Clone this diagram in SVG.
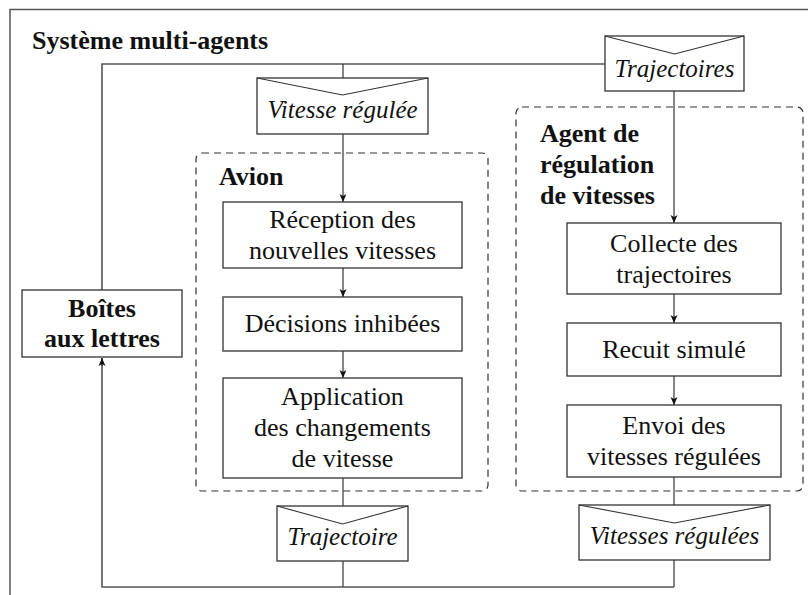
<svg xmlns="http://www.w3.org/2000/svg" width="808" height="595" viewBox="0 0 808 595">
  <style>
    text { font-family: "Liberation Serif", "DejaVu Serif", serif; fill: #111; }
    .t { font-size: 26px; text-anchor: middle; }
    .it { font-size: 25px; font-style: italic; text-anchor: middle; }
    .b { font-size: 26px; font-weight: bold; }
    .bc { font-size: 26px; font-weight: bold; text-anchor: middle; }
    .box { fill: #fff; stroke: #333; stroke-width: 1.3; }
    .env { fill: #fff; stroke: #333; stroke-width: 1.3; }
    .fold { fill: none; stroke: #333; stroke-width: 1.1; }
    .group { fill: none; stroke: #333; stroke-width: 1.2; stroke-dasharray: 7 5; }
    .frame { fill: none; stroke: #555; stroke-width: 1.5; }
    .wire { fill: none; stroke: #222; stroke-width: 1.1; }
    .loop { fill: none; stroke: #555; stroke-width: 1.6; }
  </style>
  <defs>
    <marker id="arrow" markerUnits="userSpaceOnUse" markerWidth="10" markerHeight="10" viewBox="0 0 10 10" refX="9" refY="5" orient="auto">
      <path d="M1,1.5 L9,5 L1,8.5 L3,5 Z" fill="#111"/>
    </marker>
  </defs>

  <!-- outer frame of the multi-agent system -->
  <path class="frame" d="M10,595 V9.5 H808"/>
  <text class="b" x="32" y="49">Système multi-agents</text>

  <!-- dashed containers -->
  <g id="avion">
    <rect class="group" x="196" y="153" width="292" height="338" rx="6"/>
    <text class="b" x="219" y="185">Avion</text>
  </g>
  <g id="agent-regulation">
    <rect class="group" x="516" y="107" width="287" height="384" rx="6"/>
    <text class="b" x="540" y="142">Agent de</text>
    <text class="b" x="540" y="173">régulation</text>
    <text class="b" x="540" y="204">de vitesses</text>
  </g>

  <!-- connectors -->
  <g id="connectors">
    <!-- mailbox feed: top bus -->
    <path class="loop" d="M102,290 V64 H605"/>
    <path class="wire" d="M343,64 V78"/>
    <!-- aircraft chain -->
    <path class="wire" d="M343,134 V202" marker-end="url(#arrow)"/>
    <path class="wire" d="M343,268 V297" marker-end="url(#arrow)"/>
    <path class="wire" d="M343,351 V378" marker-end="url(#arrow)"/>
    <path class="wire" d="M343,478 V506"/>
    <path class="wire" d="M343,561 V587"/>
    <!-- regulation agent chain -->
    <path class="wire" d="M674,91 V223" marker-end="url(#arrow)"/>
    <path class="wire" d="M674,294 V323" marker-end="url(#arrow)"/>
    <path class="wire" d="M674,376 V405" marker-end="url(#arrow)"/>
    <path class="wire" d="M674,477 V505"/>
    <path class="wire" d="M674,560 V587"/>
    <!-- return bus back to the mailboxes -->
    <path class="loop" d="M674,587 H102 V358"/>
    <path class="wire" d="M102,366 V358" marker-end="url(#arrow)"/>
  </g>

  <!-- mailboxes -->
  <g id="boites">
    <rect class="box" x="22" y="290" width="160" height="67"/>
    <text class="bc" x="102" y="317">Boîtes</text>
    <text class="bc" x="102" y="347">aux lettres</text>
  </g>

  <!-- messages (envelopes) -->
  <g id="msg-vitesse-regulee">
    <rect class="env" x="257" y="78" width="171" height="56"/>
    <path class="fold" d="M257,78 L342.5,95 L428,78"/>
    <text class="it" x="342.5" y="118">Vitesse régulée</text>
  </g>
  <g id="msg-trajectoires">
    <rect class="env" x="605" y="36" width="139" height="55"/>
    <path class="fold" d="M605,36 L674.5,54 L744,36"/>
    <text class="it" x="674.5" y="77">Trajectoires</text>
  </g>
  <g id="msg-trajectoire">
    <rect class="env" x="277" y="506" width="131" height="55"/>
    <path class="fold" d="M277,506 L342.5,524 L408,506"/>
    <text class="it" x="342.5" y="545">Trajectoire</text>
  </g>
  <g id="msg-vitesses-regulees">
    <rect class="env" x="579" y="505" width="191" height="55"/>
    <path class="fold" d="M579,505 L674.5,523 L770,505"/>
    <text class="it" x="674.5" y="544">Vitesses régulées</text>
  </g>

  <!-- aircraft steps -->
  <g id="reception">
    <rect class="box" x="223" y="202" width="239" height="66"/>
    <text class="t" x="342.5" y="228">Réception des</text>
    <text class="t" x="342.5" y="259">nouvelles vitesses</text>
  </g>
  <g id="decisions">
    <rect class="box" x="223" y="297" width="239" height="54"/>
    <text class="t" x="342.5" y="332">Décisions inhibées</text>
  </g>
  <g id="application">
    <rect class="box" x="223" y="378" width="239" height="100"/>
    <text class="t" x="342.5" y="405">Application</text>
    <text class="t" x="342.5" y="436">des changements</text>
    <text class="t" x="342.5" y="467">de vitesse</text>
  </g>

  <!-- regulation agent steps -->
  <g id="collecte">
    <rect class="box" x="567" y="223" width="214" height="71"/>
    <text class="t" x="674" y="252">Collecte des</text>
    <text class="t" x="674" y="283">trajectoires</text>
  </g>
  <g id="recuit">
    <rect class="box" x="567" y="323" width="214" height="53"/>
    <text class="t" x="674" y="358">Recuit simulé</text>
  </g>
  <g id="envoi">
    <rect class="box" x="567" y="405" width="214" height="72"/>
    <text class="t" x="674" y="434">Envoi des</text>
    <text class="t" x="674" y="465">vitesses régulées</text>
  </g>
</svg>
